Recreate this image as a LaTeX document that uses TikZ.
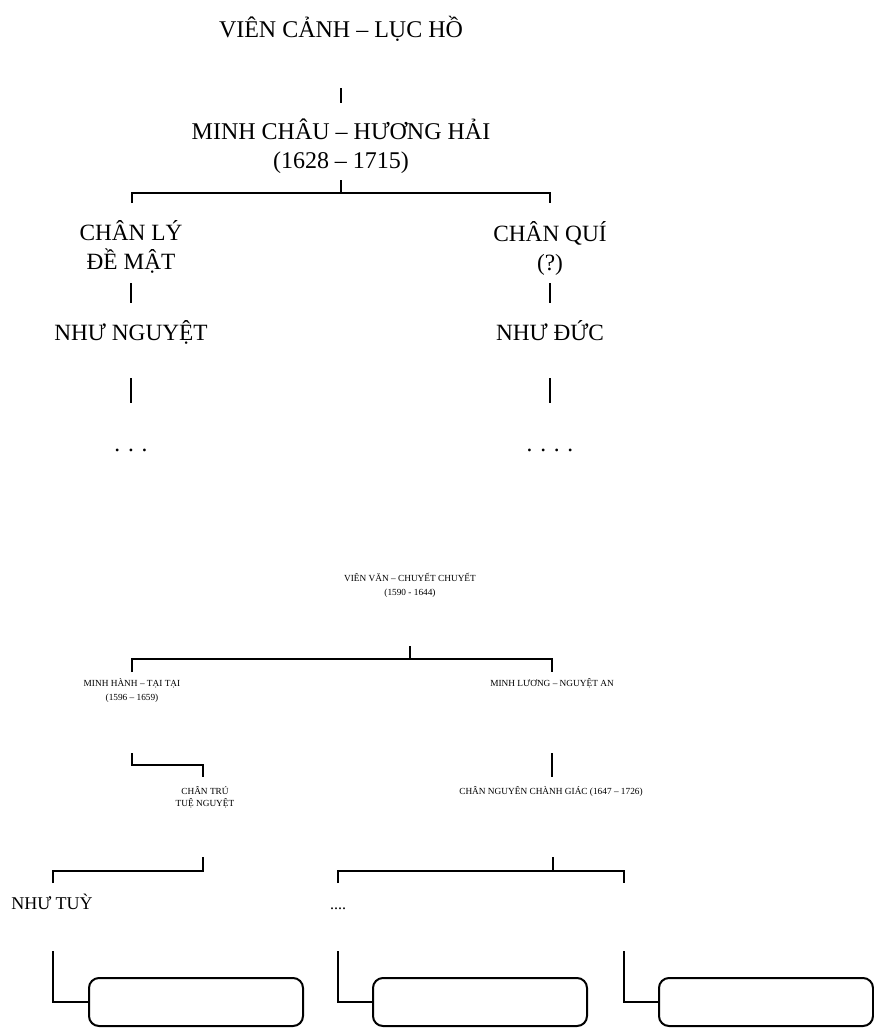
\documentclass[tikz,border=0pt]{standalone}
\usepackage{fontspec}
\setmainfont{Liberation Serif}

\begin{document}
\begin{tikzpicture}[x=1pt, y=-1pt,
    every node/.style={inner sep=0pt, align=center, anchor=base},
    big/.style={font=\fontsize{23.3}{29}\selectfont},
    head/.style={font=\fontsize{24}{29}\selectfont},
    mid/.style={font=\fontsize{18}{22}\selectfont},
    small/.style={font=\fontsize{9.3}{14}\selectfont},
    link/.style={line width=2.6pt},
    leaf/.style={draw, line width=2pt, rounded corners=10pt, anchor=center,
      minimum width=214pt, minimum height=48pt}]
  \useasboundingbox (0,0) rectangle (874,1028);
  % upper tree
  \node[head] (vc) at (341,37) {VIÊN CẢNH – LỤC HỒ};
  \node[head] (mc) at (341,168) {MINH CHÂU – HƯƠNG HẢI\\(1628 – 1715)};
  \node[big] (cl) at (131,269) {CHÂN LÝ\\ĐỀ MẬT};
  \node[big] (cq) at (550,270) {CHÂN QUÍ\\(?)};
  \node[big] (nn) at (131,340) {NHƯ NGUYỆT};
  \node[big] (nd) at (550,340) {NHƯ ĐỨC};
  \node[big] (d1) at (131,451) {. . .};
  \node[big] (d2) at (550,451) {. . . .};
  % lower tree
  \node[small] (vv) at (410,595) {VIÊN VĂN – CHUYẾT CHUYẾT\\(1590 - 1644)};
  \node[small] (mh) at (132,700) {MINH HÀNH – TẠI TẠI\\(1596 – 1659)};
  \node[small] (ml) at (552,686) {MINH LƯƠNG – NGUYỆT AN};
  \node[small] (ct) at (205,806) {CHÂN TRÚ\\[-2pt]TUỆ NGUYỆT};
  \node[small] (cn) at (551,794) {CHÂN NGUYÊN CHÀNH GIÁC (1647 – 1726)};
  \node[mid] (nt) at (52,909) {NHƯ TUỲ};
  \node[font=\fontsize{16}{18}\selectfont] (d3) at (338,909) {....};
  \node[leaf] (b1) at (196,1002) {};
  \node[leaf] (b2) at (480,1002) {};
  \node[leaf] (b3) at (766,1002) {};
  % connector ends
  \foreach \n/\x/\y in {a1/341/88, a2/341/103, m1/341/180, m2/341/193,
      l1/132/203, r1/550/203, l2/131/283, l3/131/303, l4/131/378, l5/131/403,
      r2/550/283, r3/550/303, r4/550/378, r5/550/403,
      v1/410/646, v2/410/659, h1/132/672, g1/552/672,
      h2/132/753, h3/203/765, h4/203/777, g2/552/753, g3/552/777,
      t1/203/857, t2/203/871, t3/53/883, n1/553/857, n2/553/871,
      n3/338/883, n4/624/883, e1/53/951, e2/338/951, e3/624/951}
    \coordinate (\n) at (\x,\y);
  \draw[link] (a1) -- (a2);
  \draw[link] (m1) -- (m2) (l1) |- (m2) -| (r1);
  \draw[link] (l2) -- (l3) (l4) -- (l5) (r2) -- (r3) (r4) -- (r5);
  \draw[link] (v1) -- (v2) (h1) |- (v2) -| (g1);
  \draw[link] (h2) |- (h3) -- (h4) (g2) -- (g3);
  \draw[link] (t3) |- (t2) -- (t1);
  \draw[link] (n1) -- (n2) (n3) |- (n2) -| (n4);
  \draw[link] (e1) |- (b1.west) (e2) |- (b2.west) (e3) |- (b3.west);
\end{tikzpicture}
\end{document}
